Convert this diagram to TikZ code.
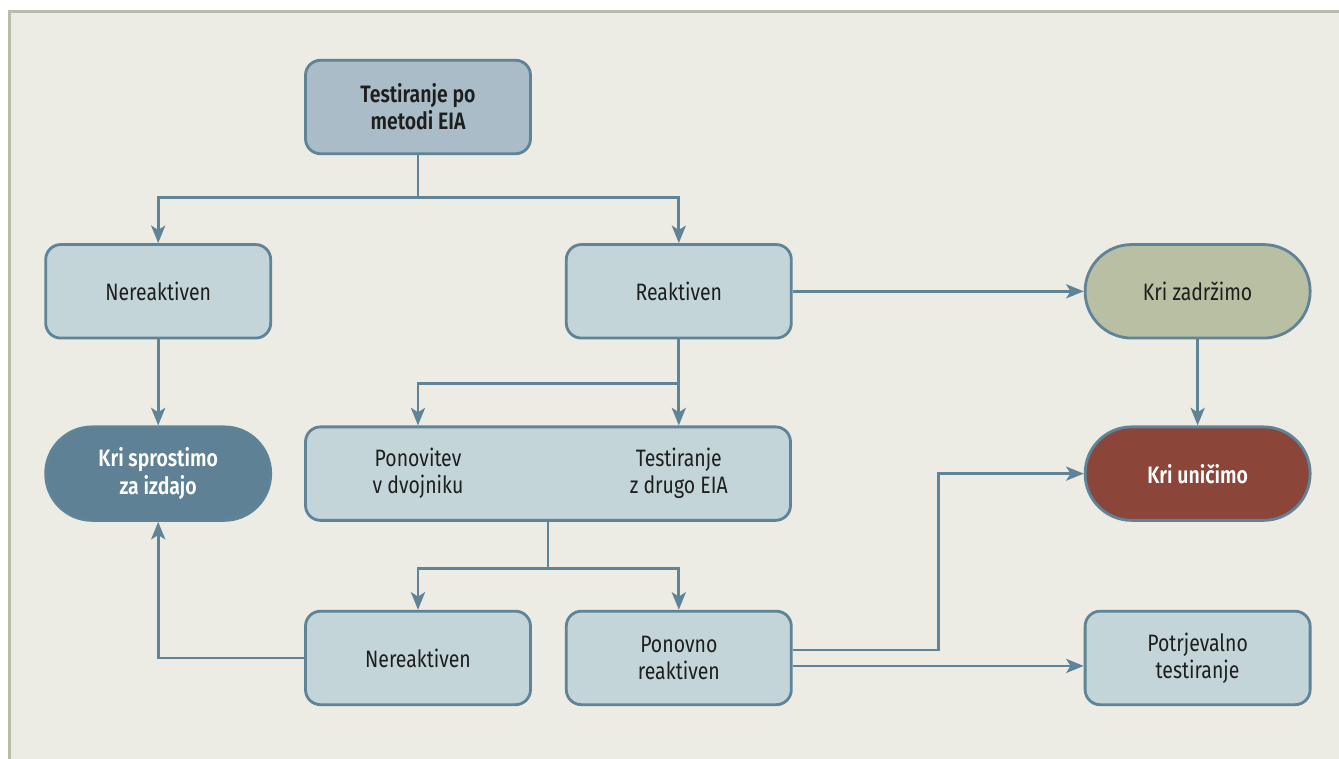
\documentclass[tikz,border=0pt]{standalone}
\usepackage{fontspec}
\setmainfont{Fira Sans}[FakeStretch=0.82, BoldFont={Fira Sans SemiBold}]
\usepackage{tikz}
\usetikzlibrary{arrows.meta,positioning}

\definecolor{bgcol}{HTML}{ECECE4}
\definecolor{framecol}{HTML}{BBBBAB}
\definecolor{linecol}{HTML}{5F8498}
\definecolor{boxcol}{HTML}{C3D5D9}
\definecolor{topcol}{HTML}{A9BCC7}
\definecolor{keepcol}{HTML}{B8BFA2}
\definecolor{freecol}{HTML}{5F8196}
\definecolor{killcol}{HTML}{8B4539}
\definecolor{txtcol}{HTML}{1E1E1E}

\newcommand{\boxfont}{\fontsize{13.5}{15.5}\selectfont}
\newcommand{\boldboxfont}{\fontsize{13.5}{15.5}\selectfont\bfseries}

\begin{document}
\begin{tikzpicture}[->,>={Stealth[length=10pt,width=8pt,inset=2.5pt]},line width=1.6pt,
    font=\boxfont]
  \tikzstyle{box}=[rectangle,draw=linecol,fill=boxcol,text=txtcol,rounded corners=0.3cm,
    minimum width=4.5cm,minimum height=1.87cm,inner sep=2pt,align=center]
  \tikzstyle{pill}=[box,rounded corners=0.93cm]
  \tikzstyle{txt}=[text=txtcol,align=center,inner sep=0pt]
  \tikzstyle{conn}=[draw=linecol]

  % page and frame
  \fill[white,use as bounding box] (0,0) rectangle (26.78,-15.18);
  \fill[bgcol] (0.19,-0.23) rectangle (26.78,-15.18);
  \draw[-,framecol,line width=0.06cm] (0.19,-15.18) -- (0.19,-0.23) -- (26.78,-0.23);

  \node[box,fill=topcol,font=\boldboxfont] (top) at (8.36,-2.14) {Testiranje po\\metodi EIA};
  \node[box] (nr1) [below left=1.76cm and 0.64cm of top] {Nereaktiven};
  \node[box] (re) [below right=1.76cm and 0.66cm of top] {Reaktiven};
  \node[pill,fill=keepcol] (zad) [right=5.82cm of re] {Kri zadržimo};
  \node[pill,fill=freecol,text=white,font=\boldboxfont] (spr) [below=1.72cm of nr1] {Kri sprostimo\\za izdajo};
  \node[box,minimum width=9.7cm] (dbl) [right=0.64cm of spr] {};
  \node[txt] (dv) at (dbl.center -| top) {Ponovitev\\v dvojniku};
  \node[txt] (dz) at (dbl.center -| re) {Testiranje\\z drugo EIA};
  \node[pill,fill=killcol,text=white,font=\boldboxfont] (uni) [below=1.72cm of zad] {Kri uničimo};
  \node[box] (nr2) [below=1.76cm of dbl.south west,anchor=north west] {Nereaktiven};
  \node[box] (pon) [right=0.66cm of nr2] {Ponovno\\reaktiven};
  \node[box] (pot) [below=1.76cm of uni] {Potrjevalno\\testiranje};

  % joints
  \coordinate (j1) at ([yshift=-0.84cm]top.south);
  \coordinate (j2) at ([yshift=-0.88cm]re.south);
  \coordinate (j3) at ([yshift=-0.94cm]dbl.south);
  \coordinate (k0) at ([xshift=2.92cm]pon.east);
  \coordinate (k1) at (k0 |- uni.west);
  \coordinate (p0) at ([yshift=0.16cm]pon.east);
  \coordinate (p1) at ([yshift=-0.16cm]pon.east);

  \path[conn] (top.south) -- (j1) -| (nr1.north);
  \path[conn] (j1) -| (re.north);
  \path[conn] (nr1) -- (spr);
  \path[conn] (re) -- (zad);
  \path[conn] (zad) -- (uni);
  \path[conn] (re.south) -- (re.south |- dbl.north);
  \path[conn] (j2) -| (dv |- dbl.north);
  \path[conn] (dbl.south) -- (j3) -| (nr2.north);
  \path[conn] (j3) -| (pon.north);
  \path[conn] (nr2.west) -| (spr.south);
  \path[conn] (p0) -| (k1) -- (uni.west);
  \path[conn] (p1) -- (p1 -| pot.west);
\end{tikzpicture}
\end{document}
